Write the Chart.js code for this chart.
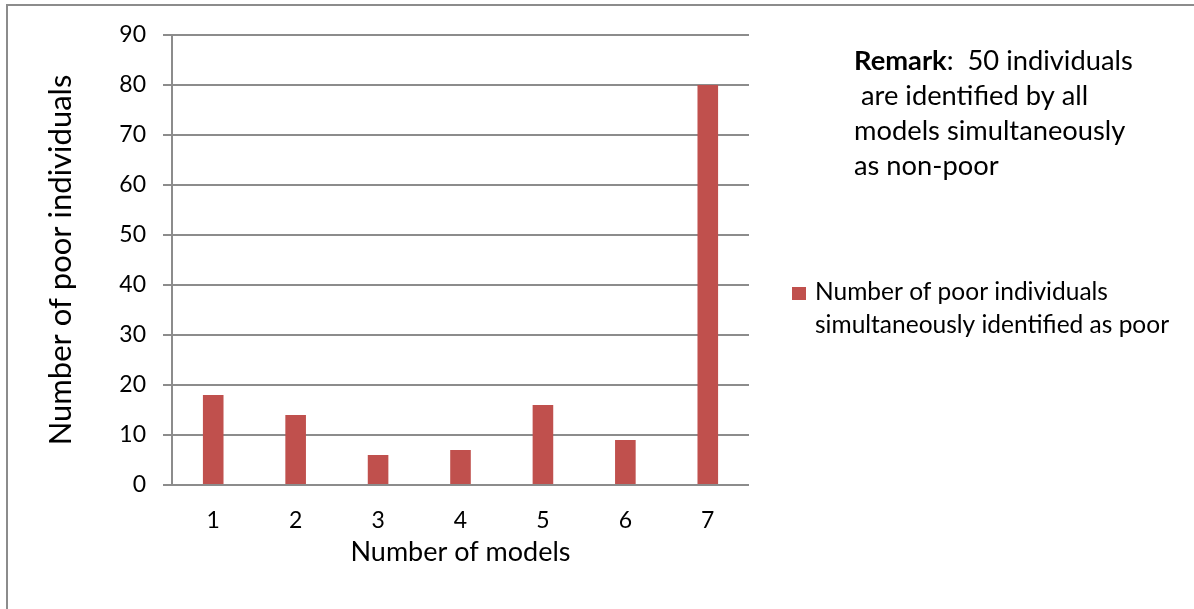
<!DOCTYPE html>
<html>
<head>
<meta charset="utf-8">
<script src="https://cdn.jsdelivr.net/npm/chart.js@4"></script>
<style>
    html, body { margin: 0; padding: 0; background: #fff; overflow: hidden; }
    #wrap { position: relative; width: 1194px; height: 609px; }
    #frame {
        position: absolute; left: 6px; top: 4px; width: 1300px; height: 700px;
        border-left: 2px solid #8c8c8c; border-top: 2px solid #8c8c8c;
    }
    #chart { position: absolute; left: 0; top: 0; }
</style>
</head>
<body>
<div id="wrap">
    <div id="frame"></div>
    <canvas id="chart" width="1194" height="609"></canvas>
</div>
<script>
const modelCounts = ['1', '2', '3', '4', '5', '6', '7'];
const poorCounts = [18, 14, 6, 7, 16, 9, 80];
const yMax = 90;
const yStep = 10;
const seriesLabel = ['Number of poor individuals', 'simultaneously identified as poor'];
const remarkLines = [
    [{ text: 'Remark', bold: true }, { text: ':  50 individuals' }],
    [{ text: ' are identified by all' }],
    [{ text: 'models simultaneously' }],
    [{ text: 'as non-poor' }],
];

const FONT = 'Lato, "Open Sans", sans-serif';
const barColor = '#c0504d';
const gridColor = '#8c8c8c';

// remark block and the wrapped legend on the right side
const sideText = {
    id: 'sideText',
    afterDraw(chart) {
        const ctx = chart.ctx;
        ctx.save();
        ctx.fillStyle = '#000';
        ctx.textBaseline = 'alphabetic';
        remarkLines.forEach((line, i) => {
            let x = 854;
            const y = 70 + i * 35;
            line.forEach((part) => {
                ctx.font = `${part.bold ? 'bold ' : ''}27.3px ${FONT}`;
                ctx.fillText(part.text, x, y);
                x += ctx.measureText(part.text).width;
            });
        });

        const ds = chart.data.datasets[0];
        ctx.fillStyle = ds.backgroundColor;
        ctx.fillRect(792, 287, 14, 13);
        ctx.fillStyle = '#000';
        ctx.font = `24.5px ${FONT}`;
        ds.legendLines.forEach((t, i) => ctx.fillText(t, 815, 300 + i * 33));
        ctx.restore();
    },
};

const ctx = document.querySelector('#chart').getContext('2d');
new Chart(ctx, {
    type: 'bar',
    data: {
        labels: modelCounts,
        datasets: [
            {
                label: seriesLabel.join(' '),
                legendLines: seriesLabel,
                data: poorCounts,
                backgroundColor: barColor,
                categoryPercentage: 1,
                barPercentage: 0.25,
            },
        ],
    },
    options: {
        responsive: false,
        animation: false,
        layout: { padding: { top: 35, right: 445, bottom: 0, left: 0 } },
        plugins: {
            legend: { display: false },
            tooltip: { enabled: false },
        },
        scales: {
            x: {
                grid: { display: false, drawTicks: false },
                border: { display: false },
                ticks: { color: '#000', font: { family: FONT, size: 23 }, padding: 22 },
                title: {
                    display: true,
                    text: 'Number of models',
                    color: '#000',
                    font: { family: FONT, size: 27 },
                    padding: { top: 0, bottom: 41 },
                },
                afterFit: (scale) => { scale.height = 124; },
            },
            y: {
                min: 0,
                max: yMax,
                grid: { color: gridColor, lineWidth: 2, tickLength: 9, drawTicks: true },
                border: { display: true, color: gridColor, width: 2 },
                ticks: { stepSize: yStep, color: '#000', font: { family: FONT, size: 23 }, padding: 17 },
                title: {
                    display: true,
                    text: 'Number of poor individuals',
                    color: '#000',
                    font: { family: FONT, size: 31 },
                    padding: { top: 42, bottom: 0 },
                },
                afterFit: (scale) => { scale.width = 172; },
            },
        },
    },
    plugins: [sideText],
});
</script>
</body>
</html>
